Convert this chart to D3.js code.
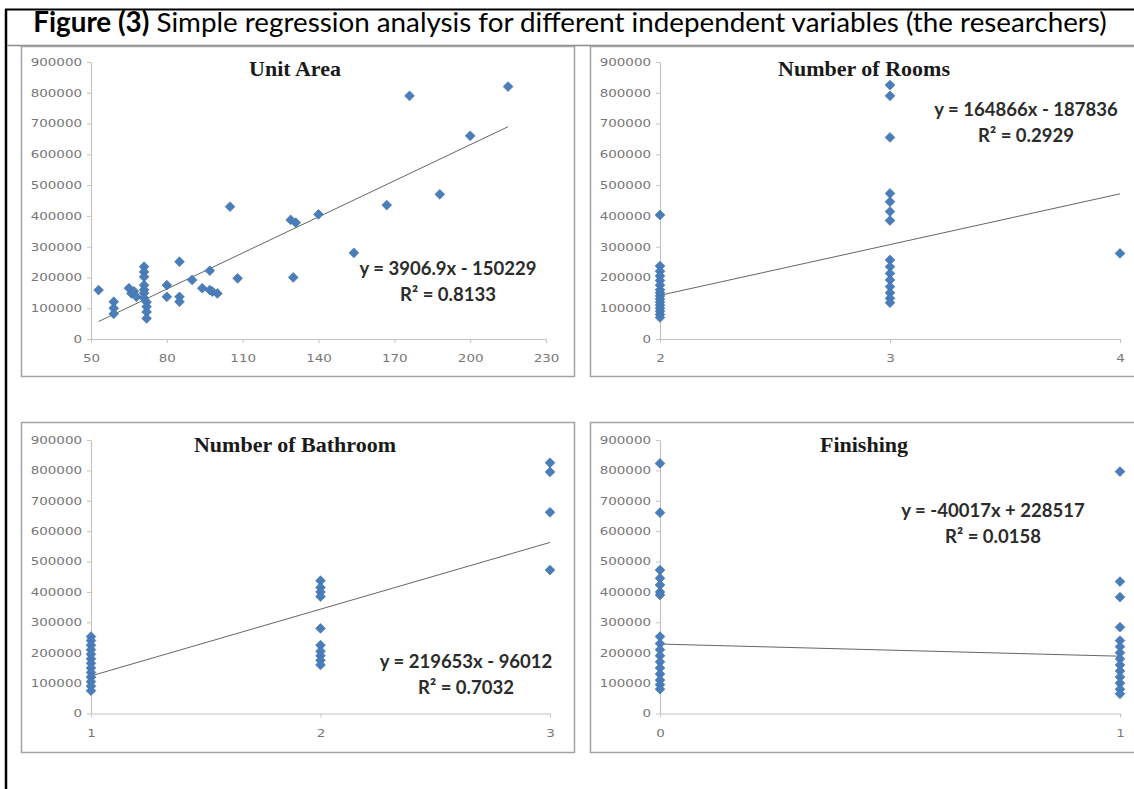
<!DOCTYPE html>
<html>
<head>
<meta charset="utf-8">
<script src="https://cdn.jsdelivr.net/npm/d3@7"></script>
<style>
  body { margin: 0; background: #fff; }
</style>
</head>
<body>
<svg id="fig" width="1134" height="789"></svg>
<script>
// values
const yTicks = [0, 100000, 200000, 300000, 400000, 500000, 600000, 700000, 800000, 900000];

// Unit Area
const areaX = [53, 59, 59, 59, 65, 66, 67, 68, 71, 71, 71, 71, 71, 71, 71, 72, 72, 72, 72,
  80, 80, 85, 85, 85, 90, 94, 97, 97, 98, 100, 105, 108, 129, 131, 130, 140, 154, 167, 176, 188, 200, 215];
const areaY = [159000, 121000, 100000, 82000, 165000, 148000, 155000, 137000, 235000, 218000, 202000, 175000, 160000, 149000, 133000, 120000, 105000, 88000, 67000,
  175000, 137000, 251000, 137000, 121000, 192000, 165000, 222000, 159000, 154000, 148000, 430000, 197000, 387000, 378000, 200000, 405000, 280000, 435000, 790000, 470000, 660000, 820000];
const areaTicks = [50, 80, 110, 140, 170, 200, 230];

// Number of Rooms
const roomsX = [2, 2, 2, 2, 2, 2, 2, 2, 2, 2, 2, 2, 2, 2, 2, 2,
  3, 3, 3, 3, 3, 3, 3, 3, 3, 3, 3, 3, 3, 3, 3, 4];
const roomsY = [403000, 237000, 220000, 205000, 190000, 175000, 160000, 150000, 140000, 130000, 120000, 110000, 100000, 90000, 80000, 70000,
  825000, 790000, 655000, 473000, 446000, 414000, 385000, 257000, 235000, 213000, 192000, 170000, 150000, 132000, 118000, 278000];
const roomsTicks = [2, 3, 4];

// Number of Bathroom
const bathX = [1, 1, 1, 1, 1, 1, 1, 1, 1, 1, 1, 1, 1,
  2, 2, 2, 2, 2, 2, 2, 2, 2, 2, 3, 3, 3, 3];
const bathY = [253000, 240000, 225000, 210000, 195000, 180000, 165000, 150000, 135000, 120000, 105000, 90000, 75000,
  437000, 415000, 400000, 385000, 280000, 225000, 205000, 190000, 175000, 160000, 825000, 795000, 662000, 472000];
const bathTicks = [1, 2, 3];

// Finishing
const finX = [0, 0, 0, 0, 0, 0, 0, 0, 0, 0, 0, 0, 0, 0, 0, 0, 0,
  1, 1, 1, 1, 1, 1, 1, 1, 1, 1, 1, 1, 1, 1];
const finY = [823000, 661000, 472000, 445000, 423000, 400000, 390000, 253000, 230000, 210000, 190000, 170000, 150000, 130000, 110000, 95000, 80000,
  796000, 434000, 383000, 284000, 240000, 220000, 200000, 180000, 160000, 140000, 120000, 100000, 80000, 65000];
const finTicks = [0, 1];

const panelTitles = ["Unit Area", "Number of Rooms", "Number of Bathroom", "Finishing"];
const slopes = [3906.9, 164866, 219653, -40017];
const intercepts = [-150229, -187836, -96012, 228517];
const equations = ["y = 3906.9x - 150229", "y = 164866x - 187836", "y = 219653x - 96012", "y = -40017x + 228517"];
const rSquared = ["R² = 0.8133", "R² = 0.2929", "R² = 0.7032", "R² = 0.0158"];

// layout of the four chart boxes
const panels = [
  { x: 21, y: 46, xs: areaX, ys: areaY, ticks: areaTicks, right: 525, top: 16, bottom: 293, eq: [427, 229] },
  { x: 590, y: 46, xs: roomsX, ys: roomsY, ticks: roomsTicks, right: 530, top: 16, bottom: 293, eq: [436, 70] },
  { x: 21, y: 422, xs: bathX, ys: bathY, ticks: bathTicks, right: 529, top: 18, bottom: 291.5, eq: [445, 246] },
  { x: 590, y: 422, xs: finX, ys: finY, ticks: finTicks, right: 530, top: 18, bottom: 291.5, eq: [403, 95] }
];
const panelW = 553, panelH = 330, axisLeft = 70;

const svg = d3.select("#fig");

// outer frame of the figure cell
svg.append("line").attr("x1", 6).attr("x2", 6).attr("y1", 9).attr("y2", 789)
  .attr("stroke", "#000").attr("stroke-width", 2.5);
svg.append("line").attr("x1", 5).attr("x2", 1134).attr("y1", 9.5).attr("y2", 9.5)
  .attr("stroke", "#000").attr("stroke-width", 2);
svg.append("line").attr("x1", 7).attr("x2", 1134).attr("y1", 45.5).attr("y2", 45.5)
  .attr("stroke", "#8c8c8c").attr("stroke-width", 1.5);

// figure caption
const title = svg.append("text")
  .attr("x", 570).attr("y", 32)
  .attr("text-anchor", "middle")
  .style("font-family", "Lato, 'Open Sans', sans-serif")
  .style("font-size", "22px")
  .style("fill", "#000");
title.append("tspan").attr("font-weight", "bold").text("Figure (3)");
title.append("tspan").text(" Simple regression analysis for different independent variables (the researchers)");
const tw = title.node().getComputedTextLength();
title.style("font-size", (22 * 1074 / tw) + "px");

function stretchText(sel, k) {
  sel.each(function () {
    const len = this.getComputedTextLength();
    d3.select(this).attr("textLength", len * k).attr("lengthAdjust", "spacingAndGlyphs");
  });
}

panels.forEach((p, i) => {
  const g = svg.append("g").attr("transform", "translate(" + p.x + "," + p.y + ")");

  g.append("rect")
    .attr("x", 0.5).attr("y", 0.5)
    .attr("width", panelW).attr("height", panelH)
    .attr("fill", "#fff")
    .attr("stroke", "#a3a3a3")
    .attr("stroke-width", 1.5);

  const x = d3.scaleLinear().domain(d3.extent(p.ticks)).range([axisLeft, p.right]);
  const y = d3.scaleLinear().domain([0, 900000]).range([p.bottom, p.top]);

  // y axis
  const ya = g.append("g")
    .attr("transform", "translate(" + axisLeft + ",0)")
    .call(d3.axisLeft(y).tickValues(yTicks).tickSize(4).tickSizeOuter(0).tickPadding(5).tickFormat(d3.format("d")));

  // x axis
  const xa = g.append("g")
    .attr("transform", "translate(0," + p.bottom + ")")
    .call(d3.axisBottom(x).tickValues(p.ticks).tickSize(4).tickSizeOuter(0).tickPadding(12).tickFormat(d3.format("d")));

  [ya, xa].forEach(a => {
    a.select(".domain").attr("stroke", "#c4c4c4").attr("stroke-width", 1.2);
    a.selectAll(".tick line").attr("stroke", "#c4c4c4");
    a.selectAll(".tick text")
      .style("font-family", "'DejaVu Sans', Verdana, sans-serif")
      .style("font-size", "10.5px")
      .attr("fill", "#777");
    stretchText(a.selectAll(".tick text"), 1.28);
  });

  // trendline over the range of the data
  const [x0, x1] = d3.extent(p.xs);
  g.append("path")
    .datum([x0, x1])
    .attr("fill", "none")
    .attr("stroke", "#666")
    .attr("stroke-width", 1)
    .attr("d", d3.line().x(d => x(d)).y(d => y(slopes[i] * d + intercepts[i])));

  // markers
  g.selectAll("path.pt")
    .data(d3.zip(p.xs, p.ys))
    .join("path")
    .attr("class", "pt")
    .attr("d", d3.symbol(d3.symbolSquare, 48))
    .attr("transform", d => "translate(" + x(d[0]) + "," + y(d[1]) + ") rotate(45)")
    .attr("fill", "#4a7ebb")
    .attr("stroke", "#3f6ea8")
    .attr("stroke-width", 0.6);

  // chart title
  g.append("text")
    .attr("x", 274).attr("y", 30)
    .attr("text-anchor", "middle")
    .style("font-family", "'Liberation Serif', 'Times New Roman', serif")
    .style("font-weight", "bold")
    .style("font-size", "22px")
    .style("fill", "#1a1a1a")
    .text(panelTitles[i]);

  // regression equation
  const eq = g.append("g")
    .style("font-family", "Lato, 'Open Sans', sans-serif")
    .style("font-weight", "bold")
    .style("font-size", "18.5px")
    .style("fill", "#2b2b2b")
    .attr("text-anchor", "middle");
  eq.append("text").attr("x", p.eq[0]).attr("y", p.eq[1]).text(equations[i]);
  eq.append("text").attr("x", p.eq[0]).attr("y", p.eq[1] + 26).text(rSquared[i]);
});
</script>
</body>
</html>
